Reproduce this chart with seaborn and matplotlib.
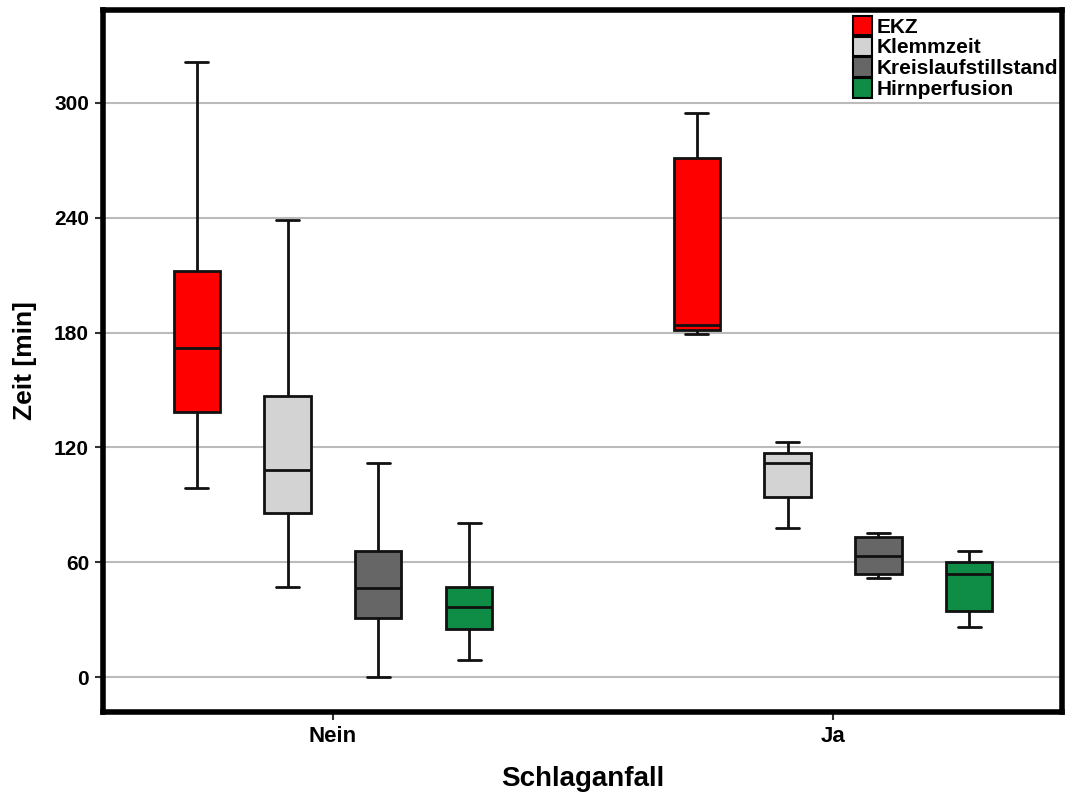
import numpy as np
import pandas as pd
import matplotlib
matplotlib.use("Agg")
import matplotlib.pyplot as plt
import seaborn as sns
from matplotlib.patches import Patch

groups = ["Nein", "Ja"]
series = ["EKZ", "Klemmzeit", "Kreislaufstillstand", "Hirnperfusion"]
colors = ["#FF0000", "#D3D3D3", "#666666", "#0F8C46"]

# five-number summaries: min, q1, median, q3, max
nein_ekz = [99, 138.5, 172, 212, 321.5]
nein_klemm = [47, 85.7, 108, 147, 239]
nein_kreis = [0, 31, 46.5, 66, 112]
nein_hirn = [9, 25, 36.6, 47, 80.5]
ja_ekz = [179, 181.4, 184, 271, 295]
ja_klemm = [78, 94, 112, 117, 123]
ja_kreis = [52, 54, 63, 73, 75]
ja_hirn = [26, 34.5, 54, 60, 66]

yticks = [0, 60, 120, 180, 240, 300]

rows = []
for g, vals in zip(groups, [[nein_ekz, nein_klemm, nein_kreis, nein_hirn],
                             [ja_ekz, ja_klemm, ja_kreis, ja_hirn]]):
    for s, v in zip(series, vals):
        for x in v:
            rows.append({"Schlaganfall": g, "Serie": s, "Zeit": x})
df = pd.DataFrame(rows)

sns.set_theme(style="white")
plt.rcParams["font.family"] = ["Liberation Sans", "DejaVu Sans"]
plt.rcParams["text.color"] = "black"
plt.rcParams["axes.labelcolor"] = "black"
plt.rcParams["xtick.color"] = "black"
plt.rcParams["ytick.color"] = "black"

fig = plt.figure(figsize=(10.68, 7.96), dpi=100)
ax = fig.add_axes([0.0964, 0.1055, 0.898, 0.882])

sns.boxplot(data=df, x="Schlaganfall", y="Zeit", hue="Serie", order=groups,
            hue_order=series, palette=colors, saturation=1, whis=(0, 100),
            width=0.726, gap=0.49, linecolor="#111111", linewidth=2,
            legend=False, ax=ax, zorder=3)

ax.set_xlim(-0.46, 1.458)
ax.set_ylim(-18.3, 348.6)
ax.set_yticks(yticks)
ax.set_yticklabels([str(t) for t in yticks], fontsize=15, fontweight="bold")
for lab in ax.get_xticklabels():
    lab.set_fontsize(16)
    lab.set_fontweight("bold")
ax.yaxis.grid(True, color="#BBBBBB", linewidth=1.5, zorder=0)
ax.set_axisbelow(True)
for sp in ax.spines.values():
    sp.set_color("black")
    sp.set_linewidth(4)
ax.tick_params(axis="both", which="both", length=6, width=1.5, color="#333333",
               labelcolor="black", direction="out", left=True, bottom=True, pad=4)
ax.set_ylabel("Zeit [min]", fontsize=19, fontweight="bold", labelpad=12, color="black")
ax.set_xlabel("Schlaganfall", fontsize=20, fontweight="bold", labelpad=14, color="black")

handles = [Patch(facecolor=c, edgecolor="black", linewidth=1.5) for c in colors]
leg = ax.legend(handles, series, loc="upper right", bbox_to_anchor=(0.997, 0.993),
                frameon=False, prop={"family": "Liberation Sans", "weight": "bold", "size": 15},
                handlelength=0.95, handleheight=1.05, labelspacing=0.0,
                handletextpad=0.2, borderpad=0.05, borderaxespad=0.0)
for t in leg.get_texts():
    t.set_color("black")

fig.savefig("out.png", dpi=100)
